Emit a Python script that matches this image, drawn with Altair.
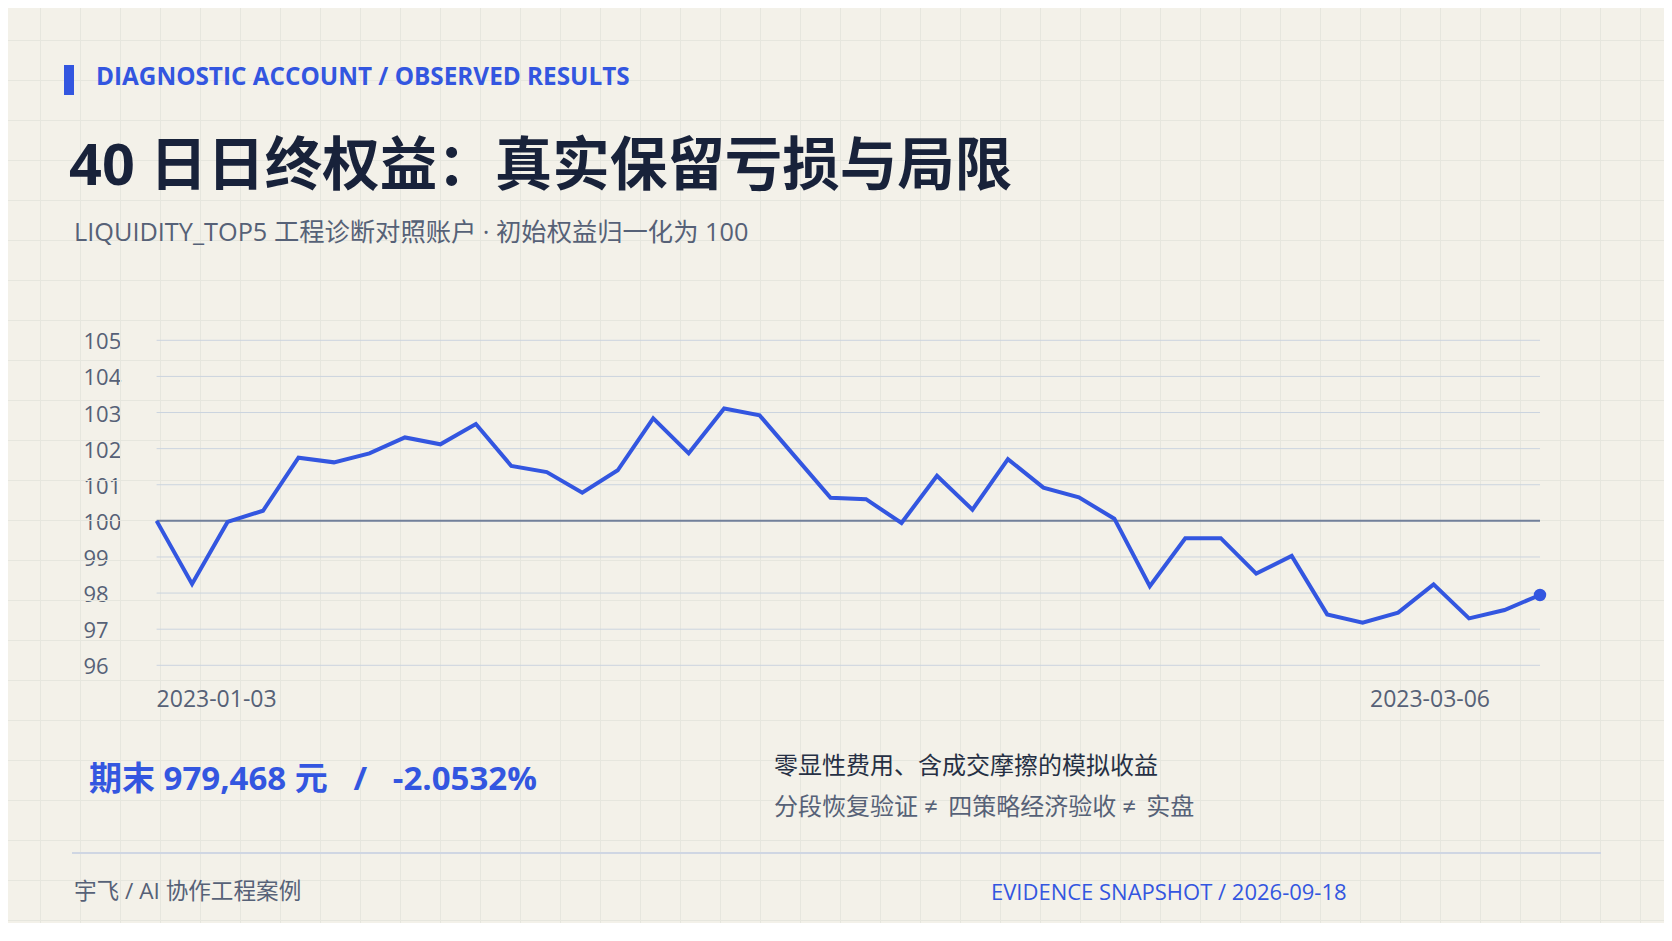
import altair as alt
import pandas as pd

# ---------------- data ----------------
DATES = [
    "2023-01-03", "2023-01-04", "2023-01-05", "2023-01-06", "2023-01-09",
    "2023-01-10", "2023-01-11", "2023-01-12", "2023-01-13", "2023-01-16",
    "2023-01-17", "2023-01-18", "2023-01-19", "2023-01-20", "2023-01-30",
    "2023-01-31", "2023-02-01", "2023-02-02", "2023-02-03", "2023-02-06",
    "2023-02-07", "2023-02-08", "2023-02-09", "2023-02-10", "2023-02-13",
    "2023-02-14", "2023-02-15", "2023-02-16", "2023-02-17", "2023-02-20",
    "2023-02-21", "2023-02-22", "2023-02-23", "2023-02-24", "2023-02-27",
    "2023-02-28", "2023-03-01", "2023-03-02", "2023-03-03", "2023-03-06",
]
EQUITY = [
    100.00, 98.25, 99.97, 100.28, 101.75, 101.62, 101.87, 102.31, 102.12, 102.68,
    101.52, 101.35, 100.78, 101.40, 102.84, 101.87, 103.11, 102.92, 101.78, 100.64,
    100.60, 99.94, 101.25, 100.31, 101.71, 100.92, 100.65, 100.06, 98.19, 99.52,
    99.52, 98.54, 99.03, 97.41, 97.18, 97.46, 98.24, 97.30, 97.53, 97.9468,
]
Y_TICKS = [96, 97, 98, 99, 100, 101, 102, 103, 104, 105]
Y_DOMAIN = [96, 105]
BASELINE = [100]
X_FIRST = [DATES[0]]
X_LAST = [DATES[-1]]

KICKER = "DIAGNOSTIC ACCOUNT / OBSERVED RESULTS"
TITLE = "40 日日终权益：真实保留亏损与局限"
SUBTITLE = "LIQUIDITY_TOP5 工程诊断对照账户 · 初始权益归一化为 100"
METRIC = "期末 979,468 元\u00a0\u00a0\u00a0/\u00a0\u00a0\u00a0-2.0532%"
NOTE1 = "零显性费用、含成交摩擦的模拟收益"
NOTE2 = "分段恢复验证\u00a0≠\u00a0\u2009四策略经济验收\u00a0≠\u00a0\u2009实盘"
FOOT_L = "宇飞 / AI 协作工程案例"
FOOT_R = "EVIDENCE SNAPSHOT / 2026-09-18"

# ---------------- style / layout ----------------
BG = "#f3f1e9"
GRIDBG = "#e6e6de"
BLUE = "#3356e0"
DARK = "#18223a"
GRAY = "#566177"
NOTE_DARK = "#263044"
FONT = "Open Sans, Noto Sans CJK SC, sans-serif"

W_TOTAL, H_TOTAL = 1656, 915
X0, Y0 = 156.6, 340.3          # plot origin in window coords
PLOT_W, PLOT_H = 1383.4, 325


def px(x):
    return x - X0


def py(y):
    return y - Y0


df = pd.DataFrame({"date": DATES, "equity": EQUITY})

X = alt.X(
    "date:O",
    sort=DATES,
    scale=alt.Scale(type="point", padding=0),
    axis=None,
)
Y = alt.Y(
    "equity:Q",
    scale=alt.Scale(domain=Y_DOMAIN, nice=False, zero=False),
    axis=alt.Axis(
        values=Y_TICKS,
        title=None,
        grid=False,
        domain=False,
        ticks=False,
        tickSize=0,
        labelAlign="left",
        labelBaseline="middle",
        labelPadding=X0 - 83,
        labelOffset=1.5,
        labelFontSize=22,
        labelFont=FONT,
        labelColor=GRAY,
    ),
)

# background page grid
vgrid = (
    alt.Chart(alt.sequence(1, 42, as_="k"))
    .transform_calculate(gx=f"datum.k * 40 + 0.5 - {X0}")
    .mark_rule(color=GRIDBG, strokeWidth=1)
    .encode(x=alt.X("gx:Q", scale=None, axis=None), y=alt.value(py(8)), y2=alt.value(py(8 + H_TOTAL)))
)
hgrid = (
    alt.Chart(alt.sequence(1, 24, as_="k"))
    .transform_calculate(gy=f"datum.k * 40 + 0.5 - {Y0}")
    .mark_rule(color=GRIDBG, strokeWidth=1)
    .encode(y=alt.Y("gy:Q", scale=None, axis=None), x=alt.value(px(8)), x2=alt.value(px(8 + W_TOTAL)))
)

ygrid = alt.Chart(pd.DataFrame({"equity": Y_TICKS})).mark_rule(color="#cbd4df", strokeWidth=1).encode(y=Y)
base_rule = alt.Chart(pd.DataFrame({"equity": BASELINE})).mark_rule(color="#72809a", strokeWidth=2).encode(y=Y)

line = alt.Chart(df).mark_line(color=BLUE, strokeWidth=4).encode(x=X, y=Y)
last_pt = (
    alt.Chart(df)
    .transform_filter(alt.datum.date == DATES[-1])
    .mark_circle(size=154, color=BLUE, opacity=1)
    .encode(x=X, y=Y)
)

# x-axis date labels, placed through the x scale
xlab_first = (
    alt.Chart(pd.DataFrame({"date": X_FIRST}))
    .mark_text(align="left", baseline="alphabetic", fontSize=23, color=GRAY, font=FONT)
    .encode(x=X, y=alt.value(py(707)), text="date:N")
)
xlab_last = (
    alt.Chart(pd.DataFrame({"date": X_LAST}))
    .mark_text(align="center", baseline="alphabetic", fontSize=23, color=GRAY, font=FONT, dx=-110)
    .encode(x=X, y=alt.value(py(707)), text="date:N")
)


def label(text, x, y, size, color, weight="normal", font=FONT):
    return (
        alt.Chart(pd.DataFrame({"t": [text]}))
        .mark_text(align="left", baseline="alphabetic", fontSize=size, color=color, fontWeight=weight, font=font)
        .encode(text="t:N", x=alt.value(px(x)), y=alt.value(py(y)))
    )


one = pd.DataFrame({"a": [0]})
accent = alt.Chart(one).mark_rect(color=BLUE).encode(
    x=alt.value(px(64)), x2=alt.value(px(74)), y=alt.value(py(65)), y2=alt.value(py(95))
)
separator = alt.Chart(one).mark_rule(color="#cfd6e3", strokeWidth=2).encode(
    x=alt.value(px(72)), x2=alt.value(px(1601)), y=alt.value(py(853))
)

texts = [
    label(KICKER, 96, 85, 24.3, BLUE, "bold"),
    label(TITLE, 69, 185, 57.5, DARK, "bold"),
    label(SUBTITLE, 74, 241, 25.3, GRAY),
    label(METRIC, 89, 790, 33, BLUE, "bold"),
    label(NOTE1, 774, 774, 24, NOTE_DARK),
    label(NOTE2, 774, 815, 24, GRAY),
    label(FOOT_L, 74, 899, 22.6, GRAY),
    label(FOOT_R, 991, 900, 22, BLUE),
]

chart = (
    alt.layer(vgrid, hgrid, ygrid, base_rule, line, last_pt, xlab_first, xlab_last, accent, separator, *texts)
    .properties(
        width=PLOT_W,
        height=PLOT_H,
        autosize="none",
        padding={"left": X0 - 8, "top": Y0 - 8, "right": W_TOTAL - (X0 - 8) - PLOT_W, "bottom": H_TOTAL - (Y0 - 8) - PLOT_H},
        background=BG,
    )
    .configure_view(strokeWidth=0)
)

chart.save("out.html", embed_options={"renderer": "svg", "actions": False})
